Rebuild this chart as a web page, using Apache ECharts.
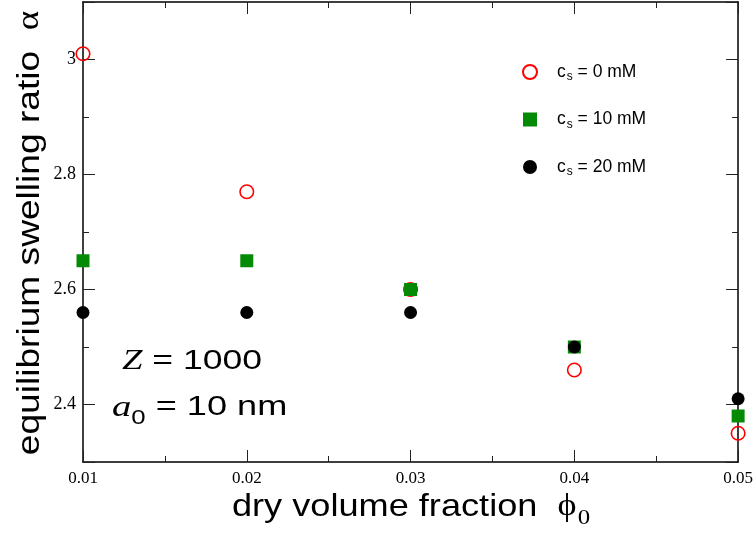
<!DOCTYPE html>
<html>
<head>
<meta charset="utf-8">
<title>Equilibrium swelling ratio</title>
<script src="https://cdn.jsdelivr.net/npm/echarts@6/dist/echarts.min.js"></script>
<style>
  html, body { margin: 0; padding: 0; background: #fff; }
  #chart { width: 756px; height: 534px; }
</style>
</head>
<body>
<div id="chart"></div>
<script>
// Dry volume fraction (x) and equilibrium swelling ratio (y) for three salt concentrations
const phi0 = [0.01, 0.02, 0.03, 0.04, 0.05];
const alphaCs0 = [3.01, 2.77, 2.60, 2.46, 2.35];
const alphaCs10 = [2.65, 2.65, 2.60, 2.50, 2.38];
const alphaCs20 = [2.56, 2.56, 2.56, 2.50, 2.41];
const saltLabels = ['0 mM', '10 mM', '20 mM'];
const yTickLabels = [2.4, 2.6, 2.8, 3.0];

const SANS = 'Liberation Sans, Arial, Helvetica, sans-serif';
const SERIF = 'Liberation Serif, Times New Roman, serif';

const pairs = ys => phi0.map((x, i) => [x, ys[i]]);

const chart = echarts.init(document.getElementById('chart'), null, { renderer: 'canvas' });

const tickCommon = {
  axisLine: { show: true, onZero: false, lineStyle: { color: '#000', width: 1.5 } },
  axisTick: { show: true, inside: true, length: 12, lineStyle: { color: '#222', width: 1 } },
  minorTick: { show: true, splitNumber: 2, length: 6, lineStyle: { color: '#222', width: 1 } },
  splitLine: { show: false },
  minorSplitLine: { show: false }
};

const option = {
  backgroundColor: '#fff',
  animation: false,
  grid: { left: 83, right: 17, top: 2, bottom: 72, containLabel: false },
  xAxis: [
    Object.assign({
      type: 'value', min: 0.01, max: 0.05, interval: 0.01, position: 'bottom',
      axisLabel: {
        margin: 8, color: '#000', fontFamily: SERIF, fontSize: 17,
        formatter: v => v.toFixed(2)
      }
    }, tickCommon),
    Object.assign({
      type: 'value', min: 0.01, max: 0.05, interval: 0.01, position: 'top',
      axisLabel: { show: false }
    }, tickCommon)
  ],
  yAxis: [
    Object.assign({
      type: 'value', min: 2.3, max: 3.1, splitNumber: 4, position: 'left',
      axisLabel: {
        margin: 7, color: '#000', fontFamily: SERIF, fontSize: 18,
        formatter: v => yTickLabels.some(t => Math.abs(t - v) < 1e-6) ? String(+v.toFixed(1)) : ''
      }
    }, tickCommon),
    Object.assign({
      type: 'value', min: 2.3, max: 3.1, splitNumber: 4, position: 'right',
      axisLabel: { show: false }
    }, tickCommon)
  ],
  legend: {
    orient: 'vertical',
    left: 522,
    top: 63,
    padding: 0,
    itemWidth: 14,
    itemHeight: 14,
    itemGap: 27.5,
    selectedMode: false,
    data: saltLabels,
    formatter: name => '{c|c}{s|s}{t| = ' + name + '}',
    textStyle: {
      color: '#000',
      rich: {
        c: { fontFamily: SANS, fontSize: 17.5, padding: [0, 0, 0, 15], verticalAlign: 'top', lineHeight: 18 },
        s: { fontFamily: SANS, fontSize: 12, padding: [8, 0, 0, 1], verticalAlign: 'top', lineHeight: 13 },
        t: { fontFamily: SANS, fontSize: 17.5, verticalAlign: 'top', lineHeight: 18 }
      }
    }
  },
  series: [
    {
      name: saltLabels[0], type: 'scatter', xAxisIndex: 0, yAxisIndex: 0,
      symbol: 'circle', symbolSize: 13.5,
      itemStyle: { color: 'rgba(255,255,255,0)', borderColor: '#ff0000', borderWidth: 1.6, opacity: 1 },
      data: pairs(alphaCs0)
    },
    {
      name: saltLabels[1], type: 'scatter', xAxisIndex: 0, yAxisIndex: 0,
      symbol: 'rect', symbolSize: 13,
      itemStyle: { color: '#058a05', opacity: 1 },
      data: pairs(alphaCs10)
    },
    {
      name: saltLabels[2], type: 'scatter', xAxisIndex: 0, yAxisIndex: 0,
      symbol: 'circle', symbolSize: 13,
      itemStyle: { color: '#000', opacity: 1 },
      data: pairs(alphaCs20)
    }
  ],
  graphic: [
    {
      // x-axis title
      type: 'text', x: 411, y: 508, scaleX: 1.13,
      style: {
        text: '{t|dry volume fraction  }{p|ϕ}{s|0}',
        align: 'center', verticalAlign: 'middle',
        rich: {
          t: { fontFamily: SANS, fontSize: 32, color: '#000', verticalAlign: 'top', lineHeight: 34 },
          p: { fontFamily: SERIF, fontSize: 32, color: '#000', verticalAlign: 'top', lineHeight: 34 },
          s: { fontFamily: SERIF, fontSize: 22, color: '#000', verticalAlign: 'top', lineHeight: 22, padding: [16, 0, 0, 1] }
        }
      }
    },
    {
      // y-axis title
      type: 'text', x: 30, y: 233, rotation: Math.PI / 2, scaleX: 1.16,
      style: {
        text: '{t|equilibrium swelling ratio  }{a|α}',
        align: 'center', verticalAlign: 'middle',
        rich: {
          t: { fontFamily: SANS, fontSize: 32, color: '#000' },
          a: { fontFamily: SERIF, fontSize: 32, color: '#000' }
        }
      }
    },
    {
      type: 'text', x: 122, y: 347, scaleX: 1.27,
      style: {
        text: '{z|Z}{t| = 1000}',
        align: 'left', verticalAlign: 'top',
        rich: {
          z: { fontFamily: SERIF, fontStyle: 'italic', fontSize: 29, color: '#000', verticalAlign: 'top', lineHeight: 30 },
          t: { fontFamily: SANS, fontSize: 28, color: '#000', verticalAlign: 'top', lineHeight: 30 }
        }
      }
    },
    {
      type: 'text', x: 112, y: 393, scaleX: 1.29,
      style: {
        text: '{a|a}{s|0}{t| = 10 nm}',
        align: 'left', verticalAlign: 'top',
        rich: {
          a: { fontFamily: SERIF, fontStyle: 'italic', fontSize: 30, color: '#000', verticalAlign: 'top', lineHeight: 30 },
          s: { fontFamily: SANS, fontSize: 20, color: '#000', verticalAlign: 'top', lineHeight: 20, padding: [15, 0, 0, 0] },
          t: { fontFamily: SANS, fontSize: 28, color: '#000', verticalAlign: 'top', lineHeight: 30 }
        }
      }
    }
  ]
};

chart.setOption(option);
</script>
</body>
</html>
